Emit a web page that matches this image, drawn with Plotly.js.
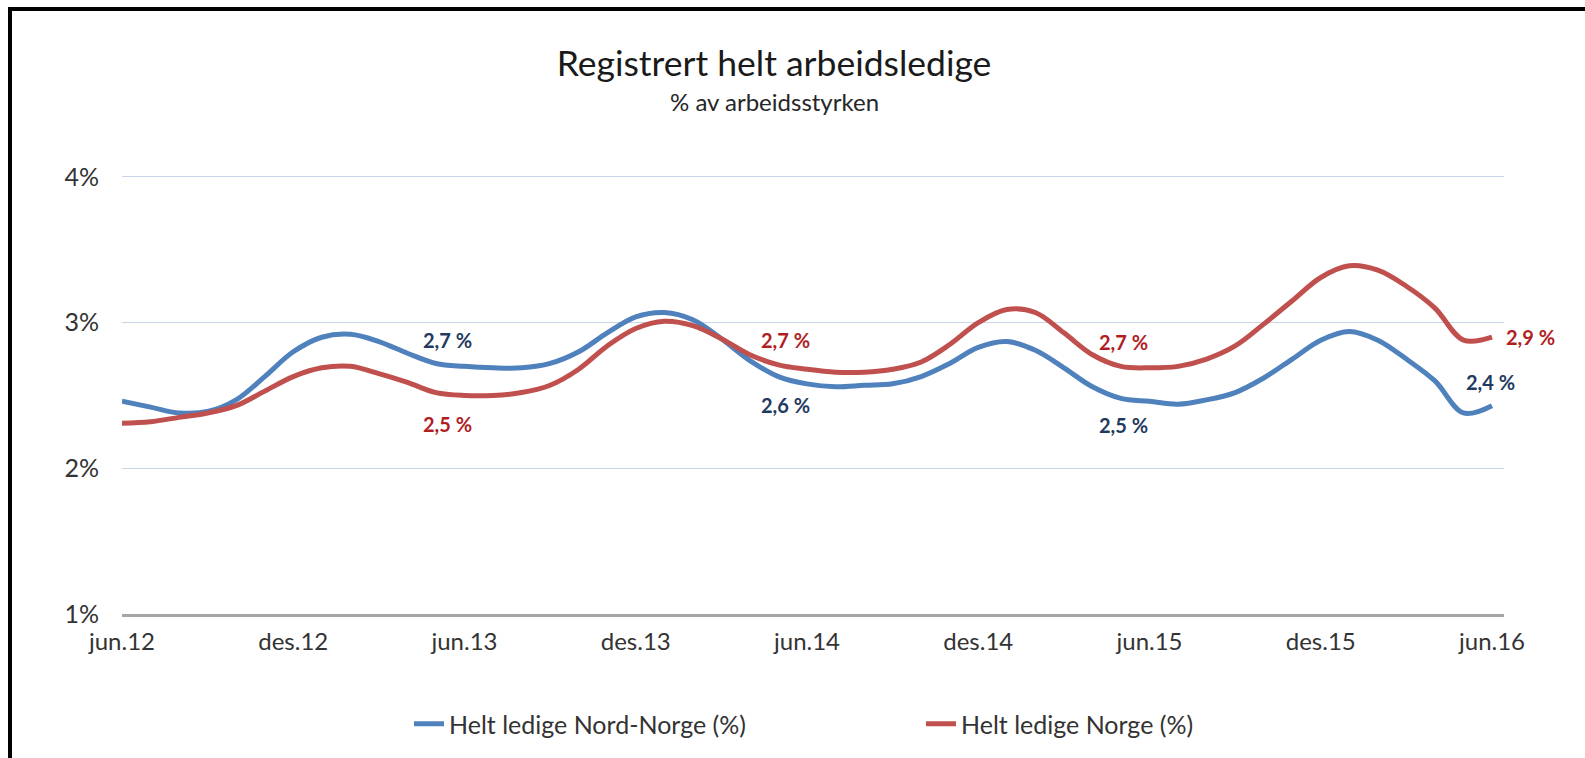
<!DOCTYPE html>
<html><head><meta charset="utf-8">
<script src="https://cdn.plot.ly/plotly-3.0.1.min.js"></script>
<style>
html,body{margin:0;padding:0;background:#fff;overflow:hidden;}
#chart{width:1585px;height:758px;}
#frame{position:absolute;left:8px;top:7px;width:1600px;height:800px;border-top:4px solid #000;border-left:4px solid #000;pointer-events:none;}
</style></head><body>
<div id="chart"></div><div id="frame"></div>
<script>
const months = ['jun.12','jul.12','aug.12','sep.12','okt.12','nov.12','des.12',
  'jan.13','feb.13','mar.13','apr.13','mai.13','jun.13','jul.13','aug.13','sep.13','okt.13','nov.13','des.13',
  'jan.14','feb.14','mar.14','apr.14','mai.14','jun.14','jul.14','aug.14','sep.14','okt.14','nov.14','des.14',
  'jan.15','feb.15','mar.15','apr.15','mai.15','jun.15','jul.15','aug.15','sep.15','okt.15','nov.15','des.15',
  'jan.16','feb.16','mar.16','apr.16','mai.16','jun.16'];
const tickLabels = ['jun.12','des.12','jun.13','des.13','jun.14','des.14','jun.15','des.15','jun.16'];
const nordNorge = [2.46,2.42,2.38,2.39,2.47,2.63,2.80,2.90,2.92,2.87,2.79,2.72,2.70,
  2.69,2.69,2.72,2.80,2.93,3.04,3.07,3.02,2.89,2.74,2.63,2.58,
  2.56,2.57,2.58,2.63,2.72,2.83,2.87,2.81,2.69,2.56,2.48,2.46,
  2.44,2.47,2.52,2.62,2.75,2.88,2.94,2.88,2.75,2.60,2.38,2.43];
const norge = [2.31,2.32,2.35,2.38,2.43,2.53,2.63,2.69,2.70,2.65,2.59,2.52,2.50,
  2.50,2.52,2.57,2.68,2.84,2.96,3.01,2.98,2.89,2.78,2.71,2.68,
  2.66,2.66,2.68,2.73,2.85,3.00,3.09,3.07,2.93,2.78,2.70,2.69,
  2.70,2.75,2.84,2.99,3.15,3.31,3.39,3.36,3.25,3.10,2.88,2.90];
const seriesNames = ['Helt ledige Nord-Norge (%)','Helt ledige Norge (%)'];
const labelMonths = ['jun.13','jun.14','jun.15','jun.16'];

const FONT = 'Lato, Carlito, "Open Sans", sans-serif';
const blue = '#4f81bd', red = '#c0504d';
const blueLbl = '#1f3a5f', redLbl = '#b01e24';

function fmt(v){ return v.toFixed(1).replace('.', ',') + ' %'; }

const traces = [
  {x: months, y: nordNorge, name: seriesNames[0], type: 'scatter', mode: 'lines',
   line: {color: blue, width: 5, shape: 'spline', smoothing: 1}, hoverinfo: 'skip'},
  {x: months, y: norge, name: seriesNames[1], type: 'scatter', mode: 'lines',
   line: {color: red, width: 5, shape: 'spline', smoothing: 1}, hoverinfo: 'skip'}
];

// label placement offsets (px) per labelled month: [blue xshift, blue yshift, red xshift, red yshift]
const offs = [[-17, 26, -17, -28], [-22, -21, -22, 29], [-26, -24, -26, 26], [-2, 24, 38, 0]];
const annotations = [];
labelMonths.forEach((m, k) => {
  const i = months.indexOf(m);
  annotations.push({x: m, y: nordNorge[i], text: '<b>' + fmt(nordNorge[i]) + '</b>', showarrow: false,
    xshift: offs[k][0], yshift: offs[k][1], font: {family: FONT, size: 20, color: blueLbl}});
  annotations.push({x: m, y: norge[i], text: '<b>' + fmt(norge[i]) + '</b>', showarrow: false,
    xshift: offs[k][2], yshift: offs[k][3], font: {family: FONT, size: 20, color: redLbl}});
});

const plotBottom = 615, plotTop = 174;
const plotH = plotBottom - plotTop;
annotations.push({xref: 'paper', yref: 'paper', x: (774 - 122) / 1382, y: (plotBottom - 101) / plotH,
  xanchor: 'center', yanchor: 'middle', showarrow: false, text: '% av arbeidsstyrken',
  font: {family: FONT, size: 24, color: '#262626'}});

const layout = {
  width: 1585, height: 758,
  margin: {l: 122, r: 81, t: plotTop, b: 758 - plotBottom},
  paper_bgcolor: '#fff', plot_bgcolor: '#fff',
  font: {family: FONT, color: '#333'},
  title: {
    text: 'Registrert helt arbeidsledige',
    font: {family: FONT, size: 35.5, color: '#1a1a1a'},
    x: 774 / 1585, xanchor: 'center', xref: 'container',
    y: 1 - 64 / 758, yanchor: 'middle', yref: 'container'
  },
  xaxis: {
    type: 'category', range: [0, 48.42], tickvals: tickLabels, ticktext: tickLabels,
    showgrid: false, zeroline: false, showline: true, linecolor: '#a6a6a6', linewidth: 3,
    ticks: '', ticklabelstandoff: 4, tickfont: {family: FONT, size: 24, color: '#333'},
    fixedrange: true
  },
  yaxis: {
    range: [1, 1 + plotH / 146], tickvals: [1, 2, 3, 4], ticktext: ['1%', '2%', '3%', '4%'],
    showgrid: true, gridcolor: '#c9d5e8', gridwidth: 1, zeroline: false, showline: false,
    ticks: '', ticklabelstandoff: 22, tickfont: {family: FONT, size: 25, color: '#333'},
    fixedrange: true
  },
  showlegend: true,
  legend: {
    orientation: 'h', x: (409 - 122) / 1382, xanchor: 'left', y: (plotBottom - 724) / plotH, yanchor: 'middle',
    font: {family: FONT, size: 25, color: '#333'}, entrywidth: 467, itemwidth: 30,
    bgcolor: 'rgba(0,0,0,0)'
  },
  annotations: annotations
};

Plotly.newPlot('chart', traces, layout, {staticPlot: true, displayModeBar: false});
</script>
</body></html>
